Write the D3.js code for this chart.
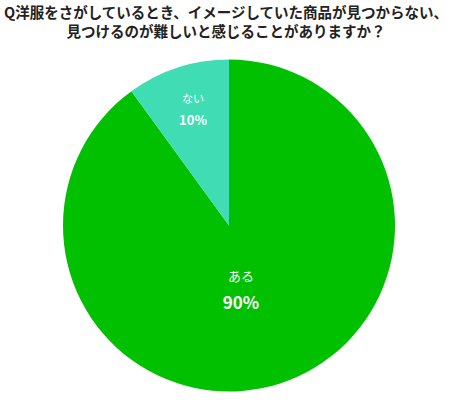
<!DOCTYPE html><html><head><meta charset="utf-8"><script src="https://cdn.jsdelivr.net/npm/d3@7"></script>
<style>body{margin:0;background:#fff}</style></head><body><svg id="c" width="452" height="400"></svg>
<script>
const categories=["ある","ない"];
const values=[90,10];
const colors=["#00C000","#40DDB4"];
const titleLines=["Q洋服をさがしているとき、イメージしていた商品が見つからない、","見つけるのが難しいと感じることがありますか？"];
const svg=d3.select("#c");
const font="'Noto Sans CJK JP',sans-serif";
svg.selectAll("text.t").data(titleLines).enter().append("text")
 .attr("x",226).attr("y",(d,i)=>18+i*19).attr("text-anchor","middle")
 .attr("font-family",font).attr("font-weight","bold").attr("font-size",14.5).attr("fill","#222").text(d=>d);
const cx=229,cy=225.5,r=166;
const pie=d3.pie().sort(null);
const arcs=pie(values);
const arc=d3.arc().innerRadius(0).outerRadius(r);
const g=svg.append("g").attr("transform",`translate(${cx},${cy})`);
g.selectAll("path").data(arcs).enter().append("path").attr("d",arc).attr("fill",(d,i)=>colors[i]);
const pos=[[12,55,83],[-36,-123,-101]];
arcs.forEach((a,i)=>{
 const [x,y1,y2]=pos[i];
 g.append("text").attr("x",x).attr("y",y1).attr("text-anchor","middle").attr("font-family",font).attr("font-size",i?11:13).attr("fill","#fff").text(categories[i]);
 g.append("text").attr("x",x).attr("y",y2).attr("text-anchor","middle").attr("font-family",font).attr("font-weight","bold").attr("font-size",i?13:17).attr("fill","#fff").text(values[i]+"%");
});
</script></body></html>
